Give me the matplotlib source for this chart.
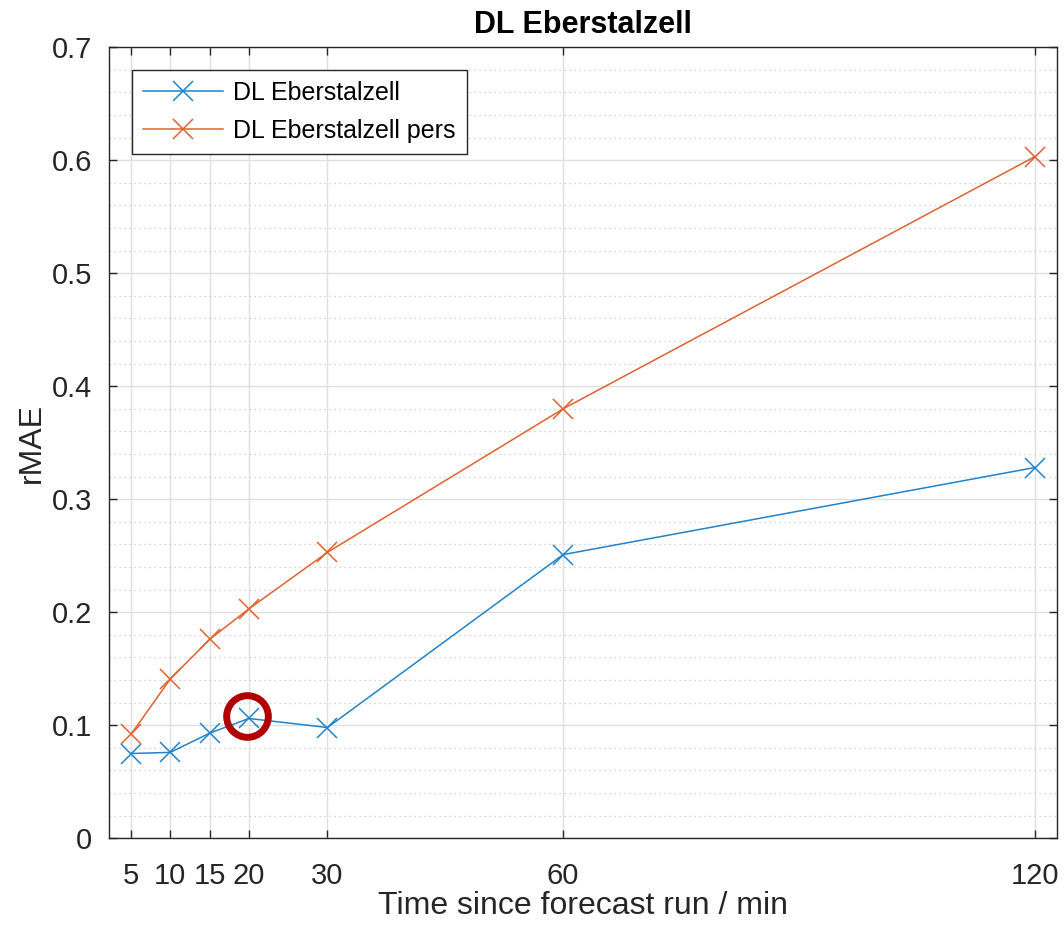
import matplotlib
matplotlib.use("Agg")
import matplotlib.pyplot as plt
from matplotlib.ticker import MultipleLocator

plt.rcParams['font.family'] = ['Liberation Sans', 'DejaVu Sans']

# data
minutes = [5, 10, 15, 20, 30, 60, 120]
dl = [0.075, 0.076, 0.093, 0.106, 0.098, 0.251, 0.328]
dl_pers = [0.092, 0.141, 0.176, 0.203, 0.253, 0.380, 0.603]
y_ticks = [0, 0.1, 0.2, 0.3, 0.4, 0.5, 0.6, 0.7]
y_labels = ['0', '0.1', '0.2', '0.3', '0.4', '0.5', '0.6', '0.7']
highlight_x = 20
highlight_y = 0.106

TXT = '#262626'
BLUE = '#2183CA'
ORANGE = '#E0622F'

fig = plt.figure(figsize=(10.64, 9.34), dpi=100)
ax = fig.add_axes([0.1025, 0.1025, 0.8905, 0.847])

ax.plot(minutes, dl, '-x', color=BLUE, lw=1.1, ms=15, mew=1.1, label='DL Eberstalzell')
ax.plot(minutes, dl_pers, '-x', color=ORANGE, lw=1.1, ms=15, mew=1.1, label='DL Eberstalzell pers')

# red ring around the 20 min point
ax.plot([highlight_x - 0.3], [highlight_y + 0.002], 'o', ms=30, mfc='none', mec='#B00000', mew=5, zorder=5)

ax.set_xlim(2.2, 122.8)
ax.set_ylim(0, 0.7)
ax.set_xticks(minutes)
ax.set_xticklabels([str(m) for m in minutes])
ax.set_yticks(y_ticks)
ax.set_yticklabels(y_labels)
ax.yaxis.set_minor_locator(MultipleLocator(0.02))

ax.tick_params(which='major', direction='in', top=True, right=True, length=6,
               width=1, labelsize=21, colors=TXT)
ax.tick_params(axis='x', pad=17)
ax.tick_params(axis='y', pad=12)
ax.tick_params(which='minor', length=0)
for s in ax.spines.values():
    s.set_color(TXT)
    s.set_linewidth(1)

ax.grid(which='major', color='#DFDFDF', lw=1, linestyle='-')
ax.grid(which='minor', axis='y', color='#C8C8C8', lw=0.9, linestyle=(0, (1, 3)))
ax.set_axisbelow(True)

ax.set_xlabel('Time since forecast run / min', fontsize=23, color=TXT, labelpad=1)
ax.set_ylabel('rMAE', fontsize=23, color=TXT, labelpad=4)
ax.set_title('DL Eberstalzell', fontsize=22, fontweight='bold', color='black', pad=10)

leg = ax.legend(loc='upper left', fontsize=18, handlelength=3.2, borderaxespad=0.9,
                fancybox=False, framealpha=1, edgecolor=TXT, borderpad=0.45,
                labelspacing=0.55, handletextpad=0.4)
leg.get_frame().set_linewidth(1)

fig.savefig('out.png', dpi=100)
